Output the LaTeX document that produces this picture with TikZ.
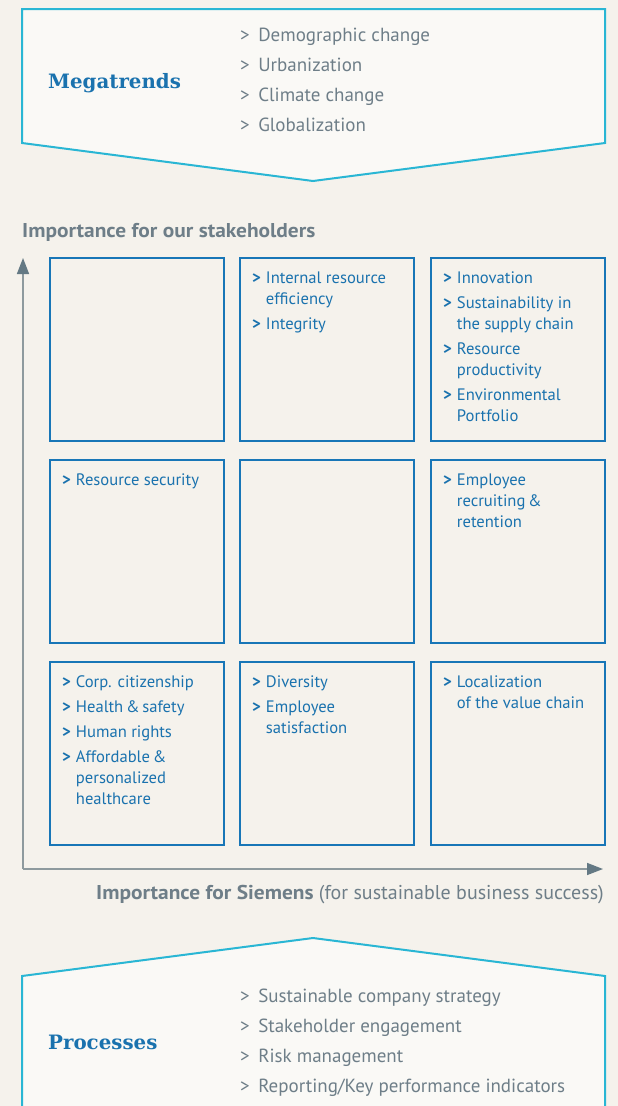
\documentclass[tikz,border=0pt]{standalone}
\usepackage{fontspec}
\setmainfont{PT Sans}
\newfontfamily\slabfont{DejaVu Serif}
\newfontfamily\widebold{PT Sans Bold}[FakeStretch=1.07]
\usetikzlibrary{arrows.meta,calc}
\definecolor{paper}{RGB}{245,242,236}
\definecolor{panelfill}{RGB}{250,249,246}
\definecolor{cyanline}{RGB}{41,182,212}
\definecolor{boxblue}{RGB}{24,118,183}
\definecolor{textblue}{RGB}{26,114,174}
\definecolor{greytext}{RGB}{110,126,136}
\definecolor{axisgrey}{RGB}{142,154,158}
\definecolor{tipgrey}{RGB}{100,121,132}
\newcommand{\bul}{{\bfseries >}}
\newcommand{\blist}[1]{\begin{tabular}{@{}l@{\hspace{5pt}}l@{}}#1\end{tabular}}
\newcommand{\tlist}[1]{\begin{tabular}{@{}l@{\hspace{8.5pt}}l@{}}#1\end{tabular}}

\begin{document}
\begin{tikzpicture}[x=1pt,y=-1pt,
  every node/.style={inner sep=0pt},
  panel/.style={draw=cyanline,line width=2pt,fill=panelfill},
  cell/.style={draw=boxblue,line width=2pt,minimum width=174pt,minimum height=183pt},
  celltext/.style={anchor=north west,text=textblue,font=\fontsize{16.6}{21}\selectfont,align=left},
  trend/.style={anchor=north west,text=greytext,font=\fontsize{19}{30}\selectfont,align=left},
  heading/.style={anchor=base west,text=textblue,font=\slabfont\bfseries\fontsize{19.8}{23}\selectfont},
  axis/.style={draw=axisgrey,line width=1.5pt,-{Triangle[length=16pt,width=12pt,color=tipgrey]}},
  axistitle/.style={text=greytext,font=\fontsize{20}{24}\selectfont}]
\fill [paper] (0,0) rectangle (618,1106);
\useasboundingbox (0,0) rectangle (618,1106);

\draw [panel] (22,9) -- (605,9) -- (605,143) -- (313,181) -- (22,143) -- cycle;
\node [heading] (mega) at (48,88) {Megatrends};
\node [trend] (megalist) at (240,20.5) {\tlist{> & Demographic change\\ > & Urbanization\\ > & Climate change\\ > & Globalization}};

\node [axistitle,anchor=base west] (ytitle) at (22,237) {\widebold Importance for our stakeholders};

\node [cell] (c11) at (137,349.5) {};
\node [cell] (c12) at (327,349.5) {};
\node [cell] (c13) at (518,349.5) {};
\node [cell] (c21) at (137,551.5) {};
\node [cell] (c22) at (327,551.5) {};
\node [cell] (c23) at (518,551.5) {};
\node [cell] (c31) at (137,753.5) {};
\node [cell] (c32) at (327,753.5) {};
\node [cell] (c33) at (518,753.5) {};

\node [celltext] (t12) at ($(c12.north west)+(13,11.5)$) {\blist{\bul & Internal resource\\ & efficiency\\[4pt] \bul & Integrity}};
\node [celltext] (t13) at ($(c13.north west)+(13,11.5)$) {\blist{\bul & Innovation\\[4pt] \bul & Sustainability in\\ & the supply chain\\[4pt] \bul & Resource\\ & productivity\\[4pt] \bul & Environmental\\ & Portfolio}};
\node [celltext] (t21) at ($(c21.north west)+(13,11.5)$) {\blist{\bul & Resource security}};
\node [celltext] (t23) at ($(c23.north west)+(13,11.5)$) {\blist{\bul & Employee\\ & recruiting\,\&\\ & retention}};
\node [celltext] (t31) at ($(c31.north west)+(13,11.5)$) {\blist{\bul & Corp. citizenship\\[4pt] \bul & Health\,\&\,safety\\[4pt] \bul & Human rights\\[4pt] \bul & Affordable\,\&\\ & personalized\\ & healthcare}};
\node [celltext] (t32) at ($(c32.north west)+(13,11.5)$) {\blist{\bul & Diversity\\[4pt] \bul & Employee\\ & satisfaction}};
\node [celltext] (t33) at ($(c33.north west)+(13,11.5)$) {\blist{\bul & Localization\\ & of the value chain}};

\coordinate (origin) at (23,869);
\coordinate (ytip) at (23,258);
\coordinate (xtip) at (603,869);
\draw [axis] (origin) -- (ytip);
\draw [axis] (origin) -- (xtip);
\node [axistitle,anchor=base east] (xtitle) at (604,899) {{\widebold Importance for Siemens} (for sustainable business success)};

\draw [panel] (22,1112) -- (22,976) -- (313,938) -- (605,976) -- (605,1112) -- cycle;
\node [heading] (proc) at (48,1049) {Processes};
\node [trend] (proclist) at (240,981.5) {\tlist{> & Sustainable company strategy\\ > & Stakeholder engagement\\ > & Risk management\\ > & Reporting/Key performance indicators}};
\end{tikzpicture}
\end{document}
